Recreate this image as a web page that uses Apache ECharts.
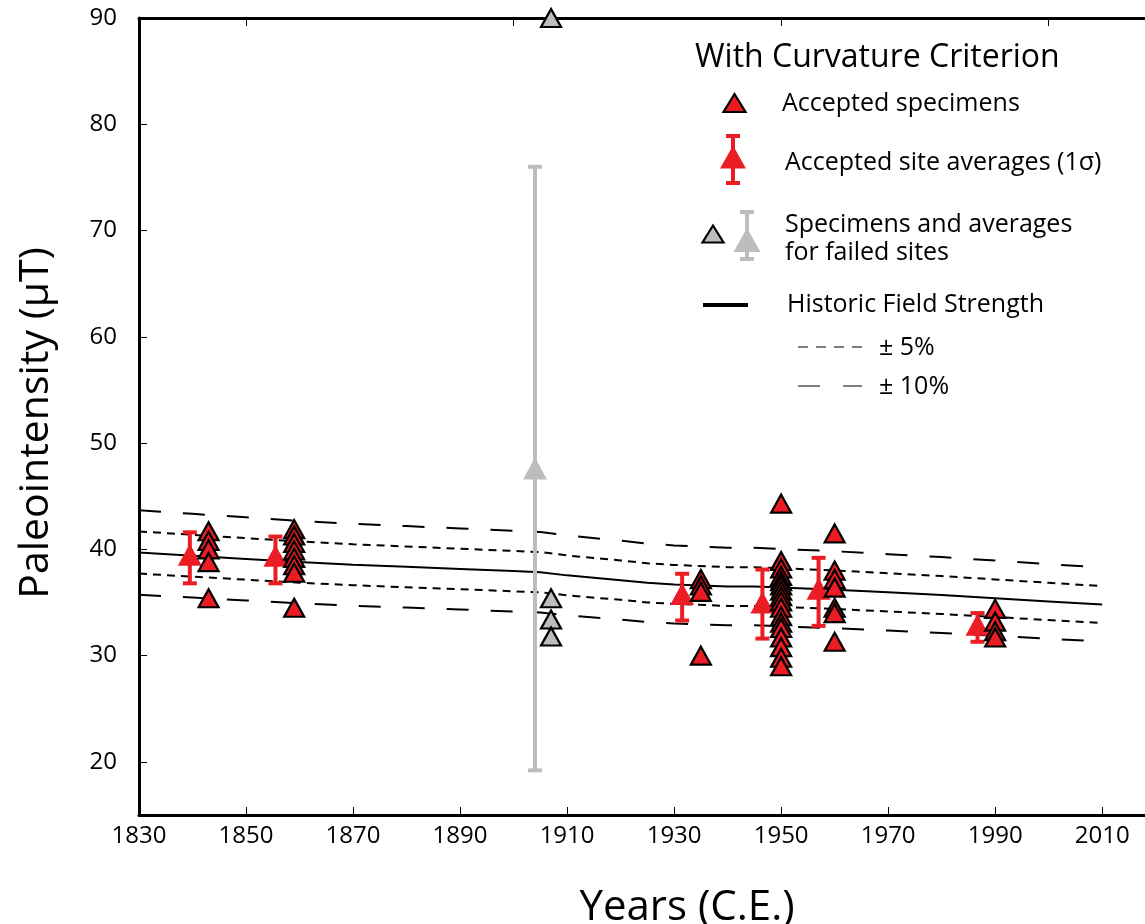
<!DOCTYPE html>
<html>
<head>
<meta charset="utf-8">
<script src="https://cdn.jsdelivr.net/npm/echarts@6/dist/echarts.min.js"></script>
<style>
  html, body { margin: 0; padding: 0; background: #ffffff; }
  #chart { width: 1145px; height: 924px; }
</style>
</head>
<body>
<div id="chart"></div>
<script>
// Historic field strength at the site (µT)
const fieldYears  = [1830, 1840, 1850, 1860, 1870, 1880, 1890, 1900, 1905, 1910, 1920, 1925, 1930, 1940, 1945, 1950, 1960, 1970, 1980, 1990, 2000, 2010];
const fieldValues = [39.7, 39.4, 39.1, 38.8, 38.55, 38.35, 38.15, 37.95, 37.85, 37.55, 37.1, 36.85, 36.7, 36.5, 36.5, 36.4, 36.2, 35.95, 35.7, 35.4, 35.1, 34.8];

// Accepted specimens
const acceptedSpecYears = [
  1843, 1843, 1843, 1843, 1843,
  1859, 1859, 1859, 1859, 1859, 1859, 1859, 1859,
  1935, 1935, 1935, 1935,
  1950, 1950, 1950, 1950, 1950, 1950, 1950, 1950, 1950, 1950, 1950, 1950, 1950, 1950, 1950, 1950, 1950,
  1960, 1960, 1960, 1960, 1960, 1960, 1960,
  1990, 1990, 1990, 1990
];
const acceptedSpecValues = [
  41.7, 40.8, 40.0, 38.8, 35.4,
  41.9, 41.3, 40.6, 39.9, 39.2, 38.5, 37.8, 34.5,
  37.2, 36.6, 36.0, 30.0,
  44.3, 38.9, 38.2, 37.5, 37.0, 36.6, 36.1, 35.6, 35.1, 34.5, 33.7, 33.1, 32.6, 31.7, 30.8, 29.8, 29.0,
  41.5, 38.0, 37.2, 36.4, 34.5, 34.0, 31.3,
  34.4, 33.2, 32.3, 31.7
];

// Accepted site averages with 1σ range
const siteYears = [1839.5, 1855.5, 1931.5, 1946.5, 1957, 1986.7];
const siteMeans = [39.5, 39.4, 35.8, 35.0, 36.3, 32.9];
const siteLow   = [36.8, 36.8, 33.3, 31.6, 32.8, 31.3];
const siteHigh  = [41.6, 41.2, 37.7, 38.1, 39.2, 34.0];

// Failed site: specimens and average
const failedSpecYears  = [1907, 1907, 1907, 1907];
const failedSpecValues = [90, 35.4, 33.4, 31.8];
const failedSiteYears = [1904];
const failedSiteMeans = [47.6];
const failedSiteLow   = [19.2];
const failedSiteHigh  = [76.0];

// Axis ticks
const xTicks = [1830, 1850, 1870, 1890, 1910, 1930, 1950, 1970, 1990, 2010];
const xTopTicks = [1850, 1900, 1950, 2000];
const yTicks = [20, 30, 40, 50, 60, 70, 80, 90];

const RED = '#ec1c24';
const GRAY = '#bdbdbd';
const FONT = 'Open Sans';

const zip = (xs, ys) => xs.map((x, i) => [x, ys[i]]);
const band = f => fieldYears.map((x, i) => [x, fieldValues[i] * f]);
const plain = v => String(v);

function errorBar(color, width) {
  return function (params, api) {
    const x = api.value(0);
    const top = api.coord([x, api.value(2)]);
    const bot = api.coord([x, api.value(1)]);
    const half = 7;
    const st = { stroke: color, lineWidth: width };
    return {
      type: 'group',
      children: [
        { type: 'line', shape: { x1: top[0], y1: top[1], x2: bot[0], y2: bot[1] }, style: st },
        { type: 'line', shape: { x1: top[0] - half, y1: top[1], x2: top[0] + half, y2: top[1] }, style: st },
        { type: 'line', shape: { x1: bot[0] - half, y1: bot[1], x2: bot[0] + half, y2: bot[1] }, style: st }
      ]
    };
  };
}

// Legend pieces
function tri(cx, cy, w, h, fill, stroke, lw) {
  return {
    type: 'polygon',
    shape: { points: [[cx, cy - h / 2], [cx - w / 2, cy + h / 2], [cx + w / 2, cy + h / 2]] },
    style: { fill: fill, stroke: stroke || null, lineWidth: lw || 0 }
  };
}
function bar(cx, y1, y2, color) {
  const st = { stroke: color, lineWidth: 4 };
  return [
    { type: 'line', shape: { x1: cx, y1: y1, x2: cx, y2: y2 }, style: st },
    { type: 'line', shape: { x1: cx - 7, y1: y1, x2: cx + 7, y2: y1 }, style: st },
    { type: 'line', shape: { x1: cx - 7, y1: y2, x2: cx + 7, y2: y2 }, style: st }
  ];
}
function label(text, x, y, size) {
  return {
    type: 'text', x: x, y: y,
    style: { text: text, font: size + 'px "' + FONT + '"', fill: '#000', align: 'left', verticalAlign: 'middle' }
  };
}

const legendGraphics = [
  label('With Curvature Criterion', 695, 58, 32),
  tri(734.5, 103, 22, 18, RED, '#000', 2.2),
  label('Accepted specimens', 782, 104, 25),
  ...bar(733, 136, 183, RED),
  tri(733, 157, 26, 23, RED),
  label('Accepted site averages (1σ)', 785, 163, 25),
  tri(713, 234, 21, 17, GRAY, '#000', 2.2),
  ...bar(747, 212, 259, GRAY),
  tri(747, 240, 27, 24, GRAY),
  label('Specimens and averages', 785, 225, 25),
  label('for failed sites', 785, 253, 25),
  { type: 'line', shape: { x1: 703, y1: 305, x2: 748, y2: 305 }, style: { stroke: '#000', lineWidth: 4 } },
  label('Historic Field Strength', 787, 305, 25),
  { type: 'line', shape: { x1: 798, y1: 347, x2: 862, y2: 347 }, style: { stroke: '#555', lineWidth: 1.6, lineDash: [10, 8] } },
  label('± 5%', 879, 348, 25),
  { type: 'line', shape: { x1: 798, y1: 386, x2: 862, y2: 386 }, style: { stroke: '#555', lineWidth: 1.6, lineDash: [22, 23] } },
  label('± 10%', 879, 387, 25),
  // axis titles
  {
    type: 'text', x: 687, y: 908,
    style: { text: 'Years (C.E.)', font: '42px "' + FONT + '"', fill: '#000', align: 'center', verticalAlign: 'middle' }
  },
  {
    type: 'text', x: 36, y: 423, rotation: Math.PI / 2,
    style: { text: 'Paleointensity (μT)', font: '41px "' + FONT + '"', fill: '#000', align: 'center', verticalAlign: 'middle' }
  }
];

const chart = echarts.init(document.getElementById('chart'), null, { renderer: 'canvas' });

const axisLineStyle = { color: '#000', width: 3 };
const tickStyle = { show: true, inside: true, length: 8, lineStyle: { color: '#000', width: 1 } };

chart.setOption({
  animation: false,
  backgroundColor: '#ffffff',
  textStyle: { fontFamily: FONT },
  grid: { left: 139, top: 18, width: 1008, height: 797, containLabel: false },
  xAxis: [
    {
      type: 'value', position: 'bottom', min: 1830, max: 2018,
      axisLine: { show: true, onZero: false, lineStyle: axisLineStyle },
      axisTick: Object.assign({ customValues: xTicks }, tickStyle),
      axisLabel: { customValues: xTicks, formatter: plain, fontSize: 24, color: '#000', margin: 9, fontFamily: FONT },
      splitLine: { show: false }
    },
    {
      type: 'value', position: 'top', min: 1830, max: 2018,
      axisLine: { show: true, onZero: false, lineStyle: axisLineStyle },
      axisTick: Object.assign({ customValues: xTopTicks }, tickStyle),
      axisLabel: { show: false },
      splitLine: { show: false }
    }
  ],
  yAxis: {
    type: 'value', min: 15, max: 90,
    axisLine: { show: true, onZero: false, lineStyle: axisLineStyle },
    axisTick: Object.assign({ customValues: yTicks }, tickStyle),
    axisLabel: { customValues: yTicks, formatter: plain, fontSize: 24, color: '#000', margin: 22, fontFamily: FONT },
    splitLine: { show: false }
  },
  graphic: legendGraphics,
  series: [
    {
      name: 'Historic Field Strength', type: 'line', data: zip(fieldYears, fieldValues),
      showSymbol: false, symbol: 'none', lineStyle: { color: '#000', width: 2 }, z: 1, silent: true
    },
    {
      name: '+5%', type: 'line', data: band(1.05), symbol: 'none',
      lineStyle: { color: '#000', width: 2, type: [8, 6] }, z: 1, silent: true
    },
    {
      name: '-5%', type: 'line', data: band(0.95), symbol: 'none',
      lineStyle: { color: '#000', width: 2, type: [8, 6] }, z: 1, silent: true
    },
    {
      name: '+10%', type: 'line', data: band(1.10), symbol: 'none',
      lineStyle: { color: '#000', width: 2, type: [22, 22] }, z: 1, silent: true
    },
    {
      name: '-10%', type: 'line', data: band(0.90), symbol: 'none',
      lineStyle: { color: '#000', width: 2, type: [22, 22] }, z: 1, silent: true
    },
    {
      name: 'Failed site 1σ', type: 'custom', renderItem: errorBar(GRAY, 4),
      data: failedSiteYears.map((x, i) => [x, failedSiteLow[i], failedSiteHigh[i]]), z: 2, clip: false
    },
    {
      name: 'Failed site average', type: 'scatter', symbol: 'triangle', symbolSize: [24, 22],
      data: zip(failedSiteYears, failedSiteMeans), itemStyle: { color: GRAY, opacity: 1 }, z: 3
    },
    {
      name: 'Accepted site 1σ', type: 'custom', renderItem: errorBar(RED, 4),
      data: siteYears.map((x, i) => [x, siteLow[i], siteHigh[i]]), z: 2, clip: false
    },
    {
      name: 'Accepted site averages', type: 'scatter', symbol: 'triangle', symbolSize: [24, 22],
      data: zip(siteYears, siteMeans), itemStyle: { color: RED, opacity: 1 }, z: 3
    },
    {
      name: 'Failed specimens', type: 'scatter', symbol: 'triangle', symbolSize: [20, 18],
      data: zip(failedSpecYears, failedSpecValues), clip: false,
      itemStyle: { color: GRAY, borderColor: '#000', borderWidth: 2.2, opacity: 1 }, z: 4
    },
    {
      name: 'Accepted specimens', type: 'scatter', symbol: 'triangle', symbolSize: [20, 18],
      data: zip(acceptedSpecYears, acceptedSpecValues), clip: false,
      itemStyle: { color: RED, borderColor: '#000', borderWidth: 2.2, opacity: 1 }, z: 4
    }
  ]
});
</script>
</body>
</html>
